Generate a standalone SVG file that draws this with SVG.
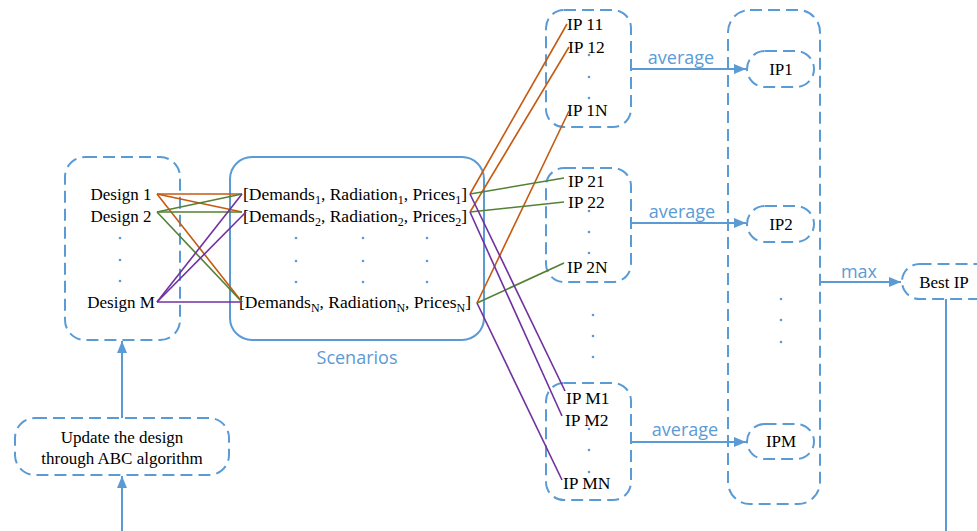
<svg xmlns="http://www.w3.org/2000/svg" width="977" height="531" viewBox="0 0 977 531">
<style>
.dash{fill:none;stroke:#5B9BD5;stroke-width:2;stroke-dasharray:12,6}
.solid{fill:none;stroke:#5B9BD5;stroke-width:2}
.t{font-family:"Liberation Serif",serif;font-size:17px;fill:#000}
.r{font-size:17.5px}
.c{text-anchor:middle}
.lbl{font-family:"Open Sans","Liberation Sans",sans-serif;font-size:18px;fill:#5B9BD5;text-anchor:middle}
.sub{font-size:12px}
.dot{fill:#5B9BD5}
.o{stroke:#C55A11;stroke-width:1.6;fill:none}
.g{stroke:#538135;stroke-width:1.6;fill:none}
.p{stroke:#7030A0;stroke-width:1.6;fill:none}
.arr{stroke:#5B9BD5;stroke-width:2;fill:none;marker-end:url(#ah)}
</style>
<defs>
<marker id="ah" markerUnits="userSpaceOnUse" markerWidth="13" markerHeight="11" refX="12" refY="5" orient="auto">
<path d="M0,0 L12,5 L0,10 z" fill="#5B9BD5"/>
</marker>
</defs>
<rect width="977" height="531" fill="#fff"/>

<g id="design">
<rect class="dash" x="65" y="157" width="115" height="183" rx="20"/>
<text class="t c" x="121" y="200">Design 1</text>
<text class="t c" x="121" y="222">Design 2</text>
<circle class="dot" cx="120" cy="238" r="1.3"/>
<circle class="dot" cx="120" cy="260" r="1.3"/>
<circle class="dot" cx="120" cy="281" r="1.3"/>
<text class="t c" x="121" y="308">Design M</text>
</g>

<g id="scenarios">
<rect class="solid" x="230" y="157" width="254" height="183" rx="22"/>
<text class="t r" x="243" y="200">[Demands<tspan class="sub" dy="4">1</tspan><tspan dy="-4">, Radiation</tspan><tspan class="sub" dy="4">1</tspan><tspan dy="-4">, Prices</tspan><tspan class="sub" dy="4">1</tspan><tspan dy="-4">]</tspan></text>
<text class="t r" x="243" y="222">[Demands<tspan class="sub" dy="4">2</tspan><tspan dy="-4">, Radiation</tspan><tspan class="sub" dy="4">2</tspan><tspan dy="-4">, Prices</tspan><tspan class="sub" dy="4">2</tspan><tspan dy="-4">]</tspan></text>
<circle class="dot" cx="296" cy="238" r="1.3"/><circle class="dot" cx="363" cy="238" r="1.3"/><circle class="dot" cx="427" cy="238" r="1.3"/>
<circle class="dot" cx="296" cy="261" r="1.3"/><circle class="dot" cx="363" cy="261" r="1.3"/><circle class="dot" cx="427" cy="261" r="1.3"/>
<circle class="dot" cx="296" cy="282" r="1.3"/><circle class="dot" cx="363" cy="282" r="1.3"/><circle class="dot" cx="427" cy="282" r="1.3"/>
<text class="t r" x="239" y="308">[Demands<tspan class="sub" dy="4">N</tspan><tspan dy="-4">, Radiation</tspan><tspan class="sub" dy="4">N</tspan><tspan dy="-4">, Prices</tspan><tspan class="sub" dy="4">N</tspan><tspan dy="-4">]</tspan></text>
<text class="lbl" x="357" y="364">Scenarios</text>
</g>

<g id="ipbox1">
<rect class="dash" x="546" y="10" width="85" height="117" rx="18"/>
<text class="t r" x="567" y="30">IP 11</text>
<text class="t r" x="568" y="53">IP 12</text>
<circle class="dot" cx="589" cy="55" r="1.3"/><circle class="dot" cx="589" cy="77" r="1.3"/><circle class="dot" cx="589" cy="98" r="1.3"/>
<text class="t r" x="567" y="116">IP 1N</text>
</g>

<g id="ipbox2">
<rect class="dash" x="546" y="168" width="85" height="114" rx="18"/>
<text class="t r" x="568" y="187">IP 21</text>
<text class="t r" x="568" y="208">IP 22</text>
<circle class="dot" cx="589" cy="211" r="1.3"/><circle class="dot" cx="589" cy="232" r="1.3"/><circle class="dot" cx="589" cy="253" r="1.3"/>
<text class="t r" x="567" y="273">IP 2N</text>
</g>

<g id="midDots">
<circle class="dot" cx="593" cy="315" r="1.3"/><circle class="dot" cx="593" cy="336" r="1.3"/><circle class="dot" cx="593" cy="357" r="1.3"/>
</g>

<g id="ipboxM">
<rect class="dash" x="546" y="383" width="85" height="117" rx="18"/>
<text class="t r" x="566" y="404">IP M1</text>
<text class="t r" x="565" y="426">IP M2</text>
<circle class="dot" cx="589" cy="429" r="1.3"/><circle class="dot" cx="589" cy="450" r="1.3"/><circle class="dot" cx="589" cy="472" r="1.3"/>
<text class="t r" x="563" y="489">IP MN</text>
</g>

<g id="ipcol">
<rect class="dash" x="728" y="10" width="92" height="494" rx="22"/>
<circle class="dot" cx="781" cy="299" r="1.3"/><circle class="dot" cx="781" cy="320" r="1.3"/><circle class="dot" cx="781" cy="342" r="1.3"/>
</g>
<g id="ip1"><rect class="dash" x="747" y="51" width="67" height="36" rx="18"/><text class="t c" x="781" y="75">IP1</text></g>
<g id="ip2"><rect class="dash" x="747" y="206" width="67" height="36" rx="18"/><text class="t c" x="781" y="230">IP2</text></g>
<g id="ipM"><rect class="dash" x="747" y="424" width="67" height="35" rx="17.5"/><text class="t c" x="781" y="447">IPM</text></g>
<g id="best"><rect class="dash" x="902" y="264" width="92" height="35" rx="17.5"/><text class="t c" x="944" y="288">Best IP</text></g>
<g id="update">
<rect class="dash" x="15" y="418" width="214" height="57" rx="20"/>
<text class="t c" x="122" y="443">Update the design</text>
<text class="t c" x="122" y="464">through ABC algorithm</text>
</g>

<g id="connectors">
<line class="o" x1="157" y1="194" x2="242" y2="194"/>
<line class="o" x1="157" y1="194" x2="242" y2="212"/>
<line class="o" x1="157" y1="194" x2="242" y2="302"/>
<line class="g" x1="157" y1="212" x2="242" y2="194"/>
<line class="g" x1="157" y1="212" x2="242" y2="212"/>
<line class="g" x1="157" y1="212" x2="242" y2="302"/>
<line class="p" x1="157" y1="302" x2="242" y2="194"/>
<line class="p" x1="157" y1="302" x2="246" y2="212"/>
<line class="p" x1="157" y1="302" x2="242" y2="302"/>

<line class="o" x1="470" y1="194" x2="567" y2="24"/>
<line class="o" x1="470" y1="212" x2="569" y2="47"/>
<line class="o" x1="477" y1="303" x2="569" y2="111"/>
<line class="g" x1="470" y1="194" x2="564" y2="178"/>
<line class="g" x1="470" y1="212" x2="564" y2="202"/>
<line class="g" x1="477" y1="303" x2="564" y2="263"/>
<line class="p" x1="470" y1="194" x2="565" y2="391"/>
<line class="p" x1="470" y1="212" x2="562" y2="416"/>
<line class="p" x1="477" y1="303" x2="562" y2="480"/>

<line class="arr" x1="631" y1="69" x2="746" y2="69"/>
<line class="arr" x1="631" y1="223" x2="746" y2="223"/>
<line class="arr" x1="631" y1="442" x2="746" y2="442"/>
<line class="arr" x1="820" y1="282" x2="901" y2="282"/>
<line class="arr" x1="122" y1="418" x2="122" y2="341"/>
<line class="arr" x1="122" y1="531" x2="122" y2="476"/>
<line class="solid" x1="946" y1="299" x2="946" y2="531"/>
<text class="lbl" x="681" y="64">average</text>
<text class="lbl" x="682" y="218">average</text>
<text class="lbl" x="685" y="436">average</text>
<text class="lbl" x="859" y="278">max</text>
</g>
</svg>
